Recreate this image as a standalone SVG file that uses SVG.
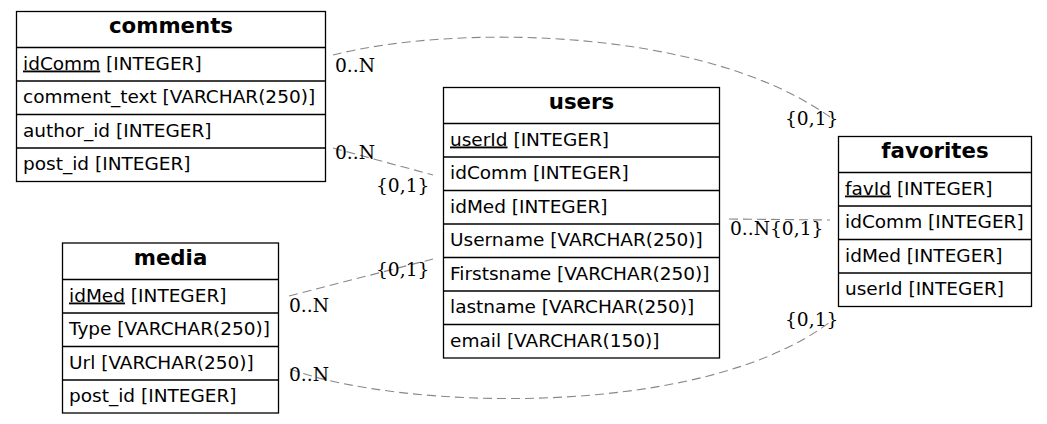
<svg xmlns="http://www.w3.org/2000/svg" width="1047" height="424" viewBox="0 0 1047 424">
<style>
.box{fill:#fff;stroke:#000;stroke-width:1.3}
.sep{stroke:#000;stroke-width:1.3}
.hd{font-family:"DejaVu Sans",sans-serif;font-weight:bold;font-size:21.3px;text-anchor:middle;fill:#000}
.f{font-family:"DejaVu Sans",sans-serif;font-size:18.5px;fill:#000}
.pk{text-decoration:underline}
.edge{fill:none;stroke:#888;stroke-width:1.1;stroke-dasharray:9,5}
.lb{font-family:"DejaVu Serif",serif;font-size:18.67px;fill:#000}
</style>
<rect width="1047" height="424" fill="#fff"/>
<g id="connectors">
<path class="edge" d="M333,55 C450,25 700,25 830,117"/>
<path class="edge" d="M333,148 L433,175"/>
<path class="edge" d="M289,296 L433,259"/>
<path class="edge" d="M729,219 L830,220"/>
<path class="edge" d="M290,369 C400,410 700,420 830,322"/>
<text class="lb" x="335" y="72">0..N</text>
<text class="lb" x="785" y="125">{0,1}</text>
<text class="lb" x="335" y="159">0..N</text>
<text class="lb" x="376" y="192">{0,1}</text>
<text class="lb" x="289" y="312">0..N</text>
<text class="lb" x="376" y="276">{0,1}</text>
<text class="lb" x="730" y="235">0..N</text>
<text class="lb" x="770" y="235">{0,1}</text>
<text class="lb" x="289" y="381">0..N</text>
<text class="lb" x="785" y="326">{0,1}</text>
</g>
<g id="comments">
<rect class="box" x="16.5" y="11.5" width="309" height="170"/>
<line class="sep" x1="16.5" y1="47.5" x2="325.5" y2="47.5"/>
<line class="sep" x1="16.5" y1="81" x2="325.5" y2="81"/>
<line class="sep" x1="16.5" y1="114.5" x2="325.5" y2="114.5"/>
<line class="sep" x1="16.5" y1="148" x2="325.5" y2="148"/>
<text class="hd" x="171" y="33">comments</text>
<text class="f" x="23" y="69.5"><tspan class="pk">idComm</tspan> [INTEGER]</text>
<text class="f" x="23" y="103">comment_text [VARCHAR(250)]</text>
<text class="f" x="23" y="136.5">author_id [INTEGER]</text>
<text class="f" x="23" y="170">post_id [INTEGER]</text>
</g>
<g id="users">
<rect class="box" x="443.5" y="87.5" width="276" height="270.5"/>
<line class="sep" x1="443.5" y1="123.5" x2="719.5" y2="123.5"/>
<line class="sep" x1="443.5" y1="157" x2="719.5" y2="157"/>
<line class="sep" x1="443.5" y1="190.5" x2="719.5" y2="190.5"/>
<line class="sep" x1="443.5" y1="224" x2="719.5" y2="224"/>
<line class="sep" x1="443.5" y1="257.5" x2="719.5" y2="257.5"/>
<line class="sep" x1="443.5" y1="291" x2="719.5" y2="291"/>
<line class="sep" x1="443.5" y1="324.5" x2="719.5" y2="324.5"/>
<text class="hd" x="581.5" y="109">users</text>
<text class="f" x="450" y="145.5"><tspan class="pk">userId</tspan> [INTEGER]</text>
<text class="f" x="450" y="179">idComm [INTEGER]</text>
<text class="f" x="450" y="212.5">idMed [INTEGER]</text>
<text class="f" x="450" y="246">Username [VARCHAR(250)]</text>
<text class="f" x="450" y="279.5">Firstsname [VARCHAR(250)]</text>
<text class="f" x="450" y="313">lastname [VARCHAR(250)]</text>
<text class="f" x="450" y="346.5">email [VARCHAR(150)]</text>
</g>
<g id="favorites">
<rect class="box" x="838.5" y="136.5" width="193" height="170"/>
<line class="sep" x1="838.5" y1="172.5" x2="1031.5" y2="172.5"/>
<line class="sep" x1="838.5" y1="206" x2="1031.5" y2="206"/>
<line class="sep" x1="838.5" y1="239.5" x2="1031.5" y2="239.5"/>
<line class="sep" x1="838.5" y1="273" x2="1031.5" y2="273"/>
<text class="hd" x="935" y="158">favorites</text>
<text class="f" x="845" y="194.5"><tspan class="pk">favId</tspan> [INTEGER]</text>
<text class="f" x="845" y="228">idComm [INTEGER]</text>
<text class="f" x="845" y="261.5">idMed [INTEGER]</text>
<text class="f" x="845" y="295">userId [INTEGER]</text>
</g>
<g id="media">
<rect class="box" x="62.5" y="243" width="216" height="170"/>
<line class="sep" x1="62.5" y1="279.5" x2="278.5" y2="279.5"/>
<line class="sep" x1="62.5" y1="313" x2="278.5" y2="313"/>
<line class="sep" x1="62.5" y1="346.5" x2="278.5" y2="346.5"/>
<line class="sep" x1="62.5" y1="380" x2="278.5" y2="380"/>
<text class="hd" x="170.5" y="265">media</text>
<text class="f" x="69" y="301.5"><tspan class="pk">idMed</tspan> [INTEGER]</text>
<text class="f" x="69" y="335">Type [VARCHAR(250)]</text>
<text class="f" x="69" y="368.5">Url [VARCHAR(250)]</text>
<text class="f" x="69" y="402">post_id [INTEGER]</text>
</g>
</svg>
